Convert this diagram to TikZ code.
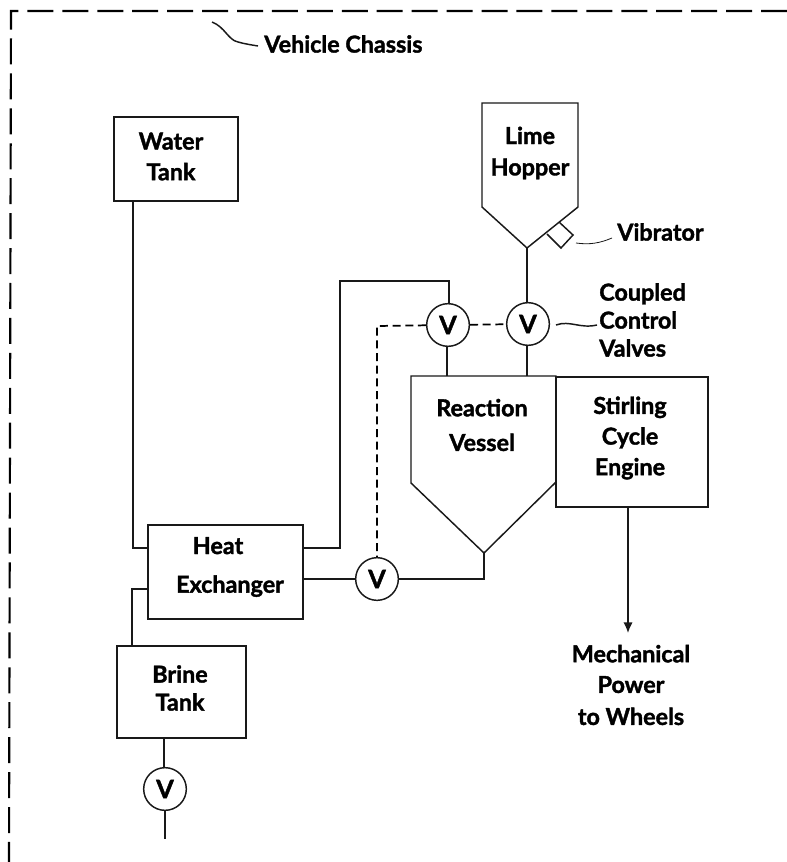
\documentclass[tikz,border=0pt]{standalone}
\usepackage{fontspec}
\usetikzlibrary{arrows.meta}
\setmainfont{Lato}[BoldFeatures={FakeBold=1.6}]
\begin{document}
\begin{tikzpicture}[x=0.75pt,y=-0.75pt,
  ln/.style={draw=black!90,line width=1.1pt},
  frame/.style={draw=black,line width=1.6pt,dash pattern=on 19.5pt off 6.7pt},
  dsh/.style={draw=black,line width=1.3pt,dash pattern=on 6pt off 3.5pt},
  lead/.style={draw=black!90,line width=1.1pt},
  lbl/.style={font=\fontsize{17.5}{21}\selectfont\bfseries,align=center,text=black,inner sep=0pt},
  valve/.style={circle,draw=black!90,line width=1.1pt,minimum size=32pt,inner sep=0pt,fill=white,font=\fontsize{19}{20}\selectfont\bfseries,text=black}]
\useasboundingbox (0,0) rectangle (787,862);
\draw[frame] (787,11) -- (11,11) -- (9,862);
% boxes
\draw[ln] (114,117) rectangle (238,201);
\node[lbl] (wtl) at (171,156.5) {Water\\[2pt]Tank};
\draw[ln] (148,525) rectangle (303,619);
\node[lbl] (hxl) at (230,567) {Heat\hspace*{18pt}\\[8pt]Exchanger};
\draw[ln] (117,646) rectangle (246,738);
\node[lbl] (btl) at (180,688) {Brine\\Tank};
\draw[ln] (482,103) -- (578,103) -- (578,207) -- (527,248) -- (482,207) -- cycle;
\node[lbl] (lhl) at (530,153) {Lime\\[2.5pt]Hopper};
\draw[ln] (411,376) -- (556,376) -- (556,482) -- (484,553) -- (411,483) -- cycle;
\node[lbl] (rvl) at (482,425) {Reaction\\[5pt]Vessel};
\draw[ln] (556,377) rectangle (708,507);
\node[lbl] (sel) at (630,438) {Stirling\\[2pt]Cycle\\[2pt]Engine};
\draw[ln] (559,222) -- (573,235) -- (561,248) -- (547,234);
% valves
\node[valve] (v1) at (448,325) {V};
\node[valve] (v2) at (528,324) {V};
\node[valve] (v3) at (377,579) {V};
\node[valve] (v4) at (165,789) {V};
% pipes
\draw[ln] (133,201) -- (133,548) -- (148,548);
\draw[ln] (148,589) -- (132,589) -- (132,646);
\draw[ln] (303,548) -- (340,548) -- (340,281) -- (449,281) -- (449,303);
\draw[ln] (447,347) -- (447,376);
\draw[ln] (527,248) -- (527,302);
\draw[ln] (527,346) -- (527,376);
\draw[ln] (303,579) -- (v3);
\draw[ln] (v3) -- (484,579) -- (484,553);
\draw[ln] (164,738) -- (164,767);
\draw[ln] (165,811) -- (165,839);
\draw[dsh] (v1) -- (v2);
\draw[dsh] (v1) -- (377,326) -- (v3);
\draw[ln,-{Latex[length=8pt,width=7pt]}] (628,507) -- (628,633);
% labels
\node[lbl,anchor=west] (vc) at (264,44) {Vehicle Chassis};
\node[lbl,anchor=west] (vib) at (617,232) {Vibrator};
\node[lbl,anchor=west,align=left] (ccv) at (599,320) {Coupled\\Control\\Valves};
\node[lbl] (mp) at (631,685) {Mechanical\\[2pt]Power\\[3pt]to Wheels};
\draw[lead] (212,22) .. controls (225,27) and (228,40) .. (238,42) .. controls (245,44) and (252,45) .. (258,46);
\draw[lead,line width=0.6pt] (576,243) .. controls (590,245) and (600,243) .. (612,238);
\draw[lead] (556,325) .. controls (570,320) and (580,329) .. (597,325);
\end{tikzpicture}
\end{document}
